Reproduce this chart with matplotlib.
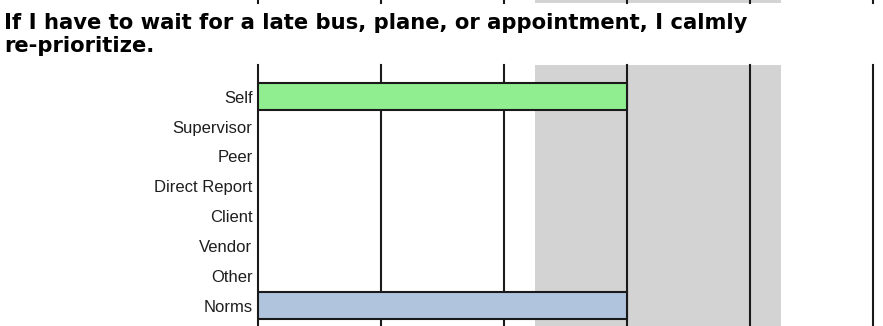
import matplotlib.pyplot as plt

# rows top to bottom
categories = ['Self', 'Supervisor', 'Peer', 'Direct Report', 'Client', 'Vendor', 'Other', 'Norms']
scores = [3.0, None, None, None, None, None, None, 3.0]
bar_colors = ['#90ee90', None, None, None, None, None, None, '#b0c4de']
band = (2.25, 4.25)  # shaded norm range
ticks = [0, 1, 2, 3, 4, 5]
title_lines = ['If I have to wait for a late bus, plane, or appointment, I calmly',
               're-prioritize.']

W, H = 883, 326
fig = plt.figure(figsize=(W / 100, H / 100), dpi=100)
fig.patch.set_facecolor('white')


def frame(ax):
    ax.set_xlim(ticks[0], ticks[-1])
    ax.axvspan(band[0], band[1], color='#d3d3d3', lw=0, zorder=0)
    for t in ticks:
        ax.axvline(t, color='#1a1a1a', lw=1.5, zorder=1, clip_on=False)
    for s in ax.spines.values():
        s.set_visible(False)
    ax.set_xticks([])
    ax.patch.set_alpha(0)


# leftover strip of the chart above
top = fig.add_axes([258 / W, 323 / H, 615 / W, 3 / H])
frame(top)
top.set_yticks([])

ax = fig.add_axes([258 / W, 0, 615 / W, (H - 65) / H])
frame(ax)
ax.set_ylim(len(categories) - 1 + 0.68, -1.06)

for i, (v, c) in enumerate(zip(scores, bar_colors)):
    if v is None:
        continue
    ax.barh(i, v, height=0.9, color=c, edgecolor='#1a1a1a', lw=1.5, zorder=2)

ax.set_yticks(range(len(categories)))
ax.set_yticklabels(categories, fontsize=12, family='Liberation Sans', color='#1e1e1e')
ax.tick_params(axis='y', length=0, pad=4)

# title, one text per line to keep the tight line spacing
for k, line in enumerate(title_lines):
    fig.text(4 / W, 1 - (29 + 23 * k) / H, line, ha='left', va='baseline',
             fontsize=15.2, fontweight='bold', family='DejaVu Sans')

fig.savefig('out.png', dpi=100)
